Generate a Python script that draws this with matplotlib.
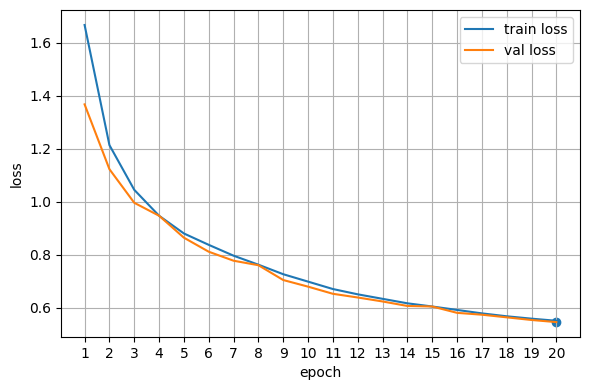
import matplotlib
matplotlib.use("Agg")
import matplotlib.pyplot as plt

epochs = list(range(1, 21))
train_loss = [1.668, 1.214, 1.045, 0.947, 0.880, 0.837, 0.796, 0.762, 0.726, 0.698,
              0.670, 0.650, 0.633, 0.616, 0.604, 0.591, 0.578, 0.567, 0.558, 0.550]
val_loss = [1.368, 1.123, 0.996, 0.947, 0.864, 0.811, 0.777, 0.760, 0.704, 0.679,
            0.652, 0.638, 0.623, 0.606, 0.604, 0.580, 0.573, 0.563, 0.553, 0.545]
best_epoch = 20
best_val = 0.545

fig, ax = plt.subplots(figsize=(5.9, 3.9), dpi=100)
ax.plot(epochs, train_loss, label="train loss")
ax.plot(epochs, val_loss, label="val loss")
ax.scatter([best_epoch], [best_val], zorder=1)
ax.set_xticks(epochs)
ax.set_xlabel("epoch")
ax.set_ylabel("loss")
ax.grid(True)
ax.legend()
fig.subplots_adjust(left=0.1034, right=0.983, top=0.974, bottom=0.136)
fig.savefig("out.png")
